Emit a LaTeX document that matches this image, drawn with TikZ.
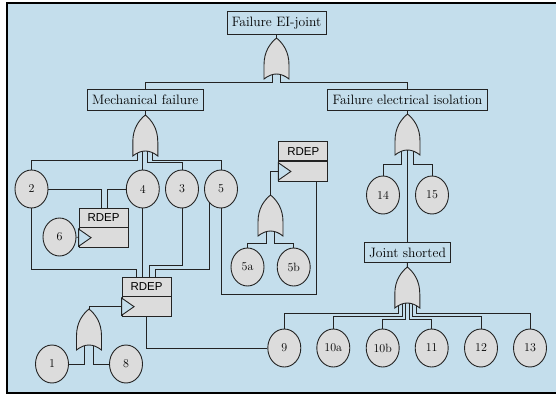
\documentclass[tikz,border=0pt]{standalone}
\usepackage{fontspec}
\usetikzlibrary{shapes.geometric}
\newfontfamily\rdepfont{Liberation Sans}
\definecolor{bg}{RGB}{196,222,236}
\definecolor{gfill}{RGB}{220,220,220}
\definecolor{linec}{RGB}{35,35,35}
\tikzset{
  conn/.style={draw=linec, line width=0.9pt},
  box/.style={draw=linec, fill=bg, line width=0.9pt, rectangle, inner xsep=2pt, inner ysep=0pt, minimum height=21pt, font=\fontsize{13.6}{15}\selectfont},
  evt/.style={ellipse, draw=linec, fill=gfill, line width=0.9pt, minimum width=33pt, minimum height=38pt, inner sep=0pt, font=\fontsize{12}{14}\selectfont},
  rdeptop/.style={draw=linec, fill=gfill, line width=0.9pt, rectangle, minimum width=49pt, minimum height=19pt, inner sep=0pt, font=\rdepfont\fontsize{11.5}{13}\selectfont},
  rdepbot/.style={draw=linec, fill=gfill, line width=0.9pt, rectangle, minimum width=49pt, minimum height=19.5pt, inner sep=0pt},
  clk/.style={draw=linec, fill=bg, line width=0.9pt},
  pics/orgate/.style={code={
     \draw[draw=linec, fill=gfill, line width=0.9pt] (-12.5,41) -- (-12.5,27) .. controls (-12.5,13) and (-6,5) .. (0,0) .. controls (6,5) and (12.5,13) .. (12.5,27) -- (12.5,41) .. controls (4.17,34.33) and (-4.17,34.33) .. cycle;
     \coordinate (-out) at (0,0);
     \foreach \i in {1,...,#1}{
        \pgfmathsetmacro\gx{-12.5+25*\i/(#1+1)}
        \pgfmathsetmacro\gy{41-5*(1-(\gx/12.5)^2)}
        \coordinate (-in\i) at (\gx,\gy);
     }
  }},
}
\begin{document}
\begin{tikzpicture}[x=1pt, y=-1pt]
\useasboundingbox (0,0) rectangle (556,394);
\fill[bg] (7,3.3) rectangle (570,392.8);
\draw[line width=2pt, black] (570,3.3) -- (6.8,3.3) -- (6.8,392.8) -- (570,392.8);

% boxes
\node[box, minimum width=99pt, minimum height=23pt] (top) at (276.5,23) {Failure EI-joint};
\node[box, minimum width=115.5pt] (mech) at (145.3,99.5) {Mechanical failure};
\node[box, minimum width=160pt] (fei) at (407.5,99.5) {Failure electrical isolation};
\node[box, minimum width=86.5pt, minimum height=20.5pt] (joint) at (407.5,252.5) {Joint shorted};

% events
\node[evt] (c2) at (31.5,189) {2};
\node[evt] (c4) at (142.8,189) {4};
\node[evt] (c3) at (182,189) {3};
\node[evt] (c5) at (221,189) {5};
\node[evt] (c6) at (59.5,237) {6};
\node[evt] (c5a) at (247.5,267) {5a};
\node[evt] (c5b) at (293.7,267) {5b};
\node[evt] (c14) at (383,195) {14};
\node[evt] (c15) at (432,195) {15};
\node[evt] (c1) at (52,364) {1};
\node[evt] (c8) at (126,364) {8};
\node[evt] (c9) at (284.3,348) {9};
\node[evt] (c10a) at (333.3,348) {10a};
\node[evt] (c10b) at (382.7,348) {10b};
\node[evt] (c11) at (431.7,348) {11};
\node[evt] (c12) at (481,348) {12};
\node[evt] (c13) at (530,348) {13};

% RDEP boxes
\node[rdeptop] (r1) at (103.5,217.5) {RDEP};
\node[rdepbot, anchor=north] (r1b) at (r1.south) {};
\draw[clk] ([yshift=-1.5pt]r1b.north west) -- ([xshift=12.5pt]r1b.west) -- ([yshift=1.5pt]r1b.south west) -- cycle;
\node[rdeptop] (r2) at (146.5,286.5) {RDEP};
\node[rdepbot, anchor=north] (r2b) at (r2.south) {};
\draw[clk] ([yshift=-1.5pt]r2b.north west) -- ([xshift=12.5pt]r2b.west) -- ([yshift=1.5pt]r2b.south west) -- cycle;
\node[rdeptop] (r3) at (303.3,151.3) {RDEP};
\node[rdepbot, anchor=north] (r3b) at (r3.south) {};
\draw[clk] ([yshift=-1.5pt]r3b.north west) -- ([xshift=12.5pt]r3b.west) -- ([yshift=1.5pt]r3b.south west) -- cycle;

\coordinate (r1in1) at ([xshift=-2.5pt]r1.north);
\coordinate (r1in2) at ([xshift=3.5pt]r1.north);
\coordinate (r2in1) at ([xshift=-9.8pt]r2.north);
\coordinate (r2in2) at ([xshift=-3.7pt]r2.north);
\coordinate (r2in3) at ([xshift=2.9pt]r2.north);
\coordinate (r2in4) at ([xshift=9.2pt]r2.north);
\coordinate (r3out) at ([xshift=13pt]r3b.south);

% gates
\pic (g0) at (276.5,38) {orgate=2};
\pic (g1) at (145.3,115) {orgate=4};
\pic (g2) at (407.5,114) {orgate=3};
\pic (g3) at (270.5,195) {orgate=2};
\pic (g4) at (407.3,267) {orgate=6};
\pic (g5) at (89,309) {orgate=2};

% connectors
\draw[conn] (top) -- (g0-out);
\draw[conn] (g0-in1) -- (g0-in1 |- 0,82.5) -| (mech);
\draw[conn] (g0-in2) -- (g0-in2 |- 0,82.5) -| (fei);

\draw[conn] (mech) -- (g1-out);
\draw[conn] (g1-in1) -- (g1-in1 |- 0,160) -| (c2);
\draw[conn] (g1-in2) -- (c4);
\draw[conn] (g1-in3) -- (g1-in3 |- 0,162.7) -| (c3);
\draw[conn] (g1-in4) -- (g1-in4 |- 0,160) -| (c5);

\draw[conn] (c2.east) -| (r1in1);
\draw[conn] (c4.west) -| (r1in2);
\draw[conn] (c6) -- (r1b);

\draw[conn] (c2) -- (c2 |- 0,269) -| (r2in1);
\draw[conn] (c4) -- (r2in2);
\draw[conn] (c3) -- (c3 |- 0,265) -| (r2in3);
\draw[conn] (c5.232) -- (c5.232 |- 0,269) -| (r2in4);

\draw[conn] (c5) -- (c5 |- 0,294) -| (r3out);
\draw[conn] (g3-out) |- (r3b);
\draw[conn] (g3-in1) -- (g3-in1 |- 0,243) -| (c5a);
\draw[conn] (g3-in2) -- (g3-in2 |- 0,243) -| (c5b);

\draw[conn] (g5-out) |- (r2b);
\draw[conn] (g5-in1) |- (c1);
\draw[conn] (g5-in2) |- (c8);
\draw[conn] (r2b) |- (c9);

\draw[conn] (fei) -- (g2-out);
\draw[conn] (g2-in1) -- (g2-in1 |- 0,164.3) -| (c14);
\draw[conn] (g2-in2) -- (joint);
\draw[conn] (g2-in3) -- (g2-in3 |- 0,164.3) -| (c15);

\draw[conn] (joint) -- (g4-out);
\draw[conn] (g4-in1) -- (g4-in1 |- 0,313.3) -| (c9);
\draw[conn] (g4-in2) -- (g4-in2 |- 0,316.7) -| (c10a);
\draw[conn] (g4-in3) -- (g4-in3 |- 0,319.5) -| (c10b);
\draw[conn] (g4-in4) -- (g4-in4 |- 0,319.5) -| (c11);
\draw[conn] (g4-in5) -- (g4-in5 |- 0,316.7) -| (c12);
\draw[conn] (g4-in6) -- (g4-in6 |- 0,313.3) -| (c13);
\end{tikzpicture}
\end{document}
